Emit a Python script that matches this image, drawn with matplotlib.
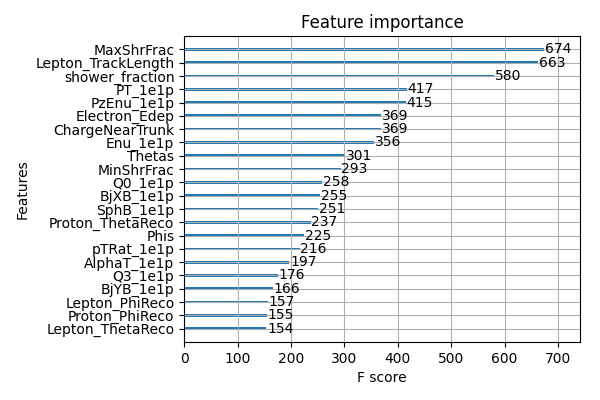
import matplotlib
matplotlib.use('Agg')
import matplotlib.pyplot as plt

# Input data (top to bottom as shown)
features = ['MaxShrFrac', 'Lepton_TrackLength', 'shower_fraction', 'PT_1e1p',
            'PzEnu_1e1p', 'Electron_Edep', 'ChargeNearTrunk', 'Enu_1e1p',
            'Thetas', 'MinShrFrac', 'Q0_1e1p', 'BjXB_1e1p', 'SphB_1e1p',
            'Proton_ThetaReco', 'Phis', 'pTRat_1e1p', 'AlphaT_1e1p', 'Q3_1e1p',
            'BjYB_1e1p', 'Lepton_PhiReco', 'Proton_PhiReco', 'Lepton_ThetaReco']
scores = [674, 663, 580, 417, 415, 369, 369, 356, 301, 293, 258, 255, 251,
          237, 225, 216, 197, 176, 166, 157, 155, 154]

# reverse so the largest ends up on top
features = features[::-1]
scores = scores[::-1]
ylocs = list(range(len(scores)))

fig, ax = plt.subplots(figsize=(6, 4), dpi=100)
ax.barh(ylocs, scores, align='center', height=0.2, color='#1f77b4')
for x, y in zip(scores, ylocs):
    ax.text(x + 1, y, x, va='center', fontsize=10)

ax.set_yticks(ylocs)
ax.set_yticklabels(features)
ax.set_xlim(0, max(scores) * 1.1)
ax.set_ylim(-1, len(scores))
ax.set_title('Feature importance')
ax.set_xlabel('F score')
ax.set_ylabel('Features')
ax.grid(True)

plt.subplots_adjust(left=0.307, right=0.967, bottom=0.145, top=0.91)
plt.savefig('out.png', dpi=100)
